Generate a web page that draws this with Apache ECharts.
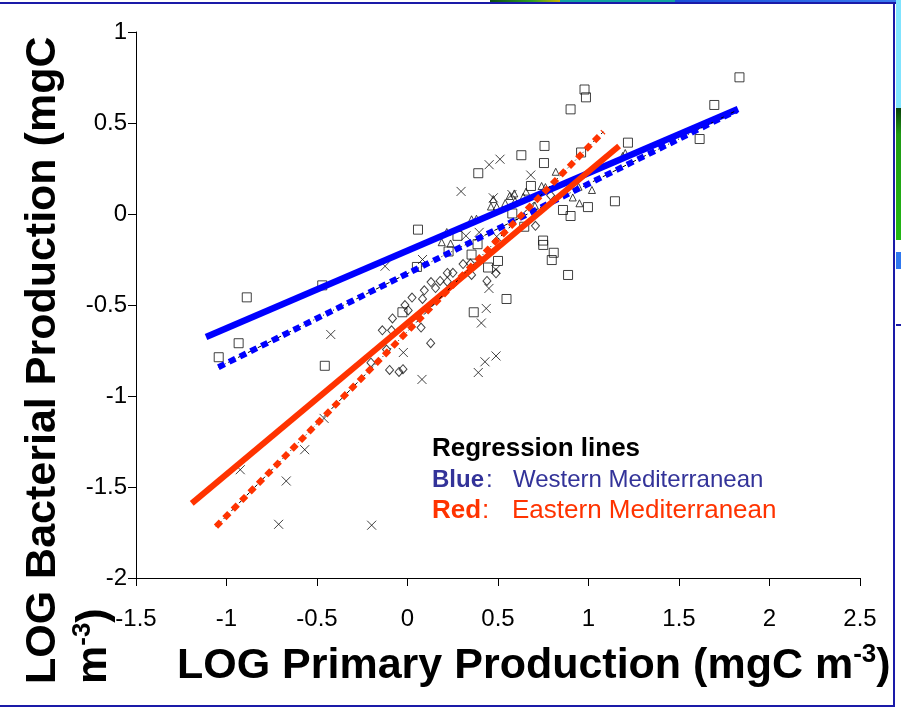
<!DOCTYPE html>
<html>
<head>
<meta charset="utf-8">
<script src="https://cdn.jsdelivr.net/npm/echarts@6/dist/echarts.min.js"></script>
<style>
  html, body { margin: 0; padding: 0; background: #ffffff; }
  #chart { width: 901px; height: 711px; }
</style>
</head>
<body>
<div id="chart"></div>
<script>
// Axis ticks (log10 units)
const xTicks = [-1.5, -1, -0.5, 0, 0.5, 1, 1.5, 2, 2.5];
const yTicks = [-2, -1.5, -1, -0.5, 0, 0.5, 1];

// Observations: [LOG PP, LOG BP], one array per cruise symbol
const squarePts = [
  [-0.888, -0.458], [-0.471, -0.392], [-0.933, -0.710], [-1.043, -0.787], [-0.457, -0.834],
  [-0.028, -0.540], [0.366, -0.540], [0.391, 0.224], [0.058, -0.086], [0.276, -0.120],
  [0.227, -0.206], [0.354, -0.223], [0.052, -0.291], [0.387, -0.166], [0.978, 0.684],
  [0.986, 0.641], [0.901, 0.575], [1.695, 0.599], [1.218, 0.392], [1.614, 0.412],
  [0.757, 0.374], [0.629, 0.323], [0.754, 0.280], [0.959, 0.338], [0.682, 0.154],
  [1.146, 0.070], [0.997, 0.038], [0.859, 0.022], [0.901, -0.011], [0.579, 0.003],
  [0.645, -0.070], [0.749, -0.146], [0.750, -0.170], [0.808, -0.213], [0.797, -0.253],
  [0.887, -0.335], [0.500, -0.258], [0.445, -0.294], [0.547, -0.467], [1.834, 0.751]
];
const crossPts = [
  [0.296, 0.124], [0.083, -0.250], [-0.124, -0.287], [-0.424, -0.662], [0.323, -0.120],
  [0.396, -0.101], [0.451, 0.271], [0.511, 0.301], [0.681, 0.214], [0.474, 0.089],
  [0.577, 0.107], [0.493, -0.124], [0.488, -0.305], [0.450, -0.409], [0.435, -0.519],
  [0.408, -0.599], [-0.023, -0.761], [0.489, -0.780], [0.428, -0.812], [0.391, -0.871],
  [0.080, -0.909], [-0.461, -1.123], [-0.568, -1.295], [-0.924, -1.405], [-0.670, -1.467],
  [-0.712, -1.705], [-0.198, -1.710]
];
const trianglePts = [
  [0.819, 0.232], [0.741, 0.154], [0.762, 0.148], [0.655, 0.123], [0.590, 0.113],
  [0.564, 0.099], [0.540, 0.060], [0.474, 0.082], [0.461, 0.041], [0.493, 0.041],
  [0.594, 0.071], [0.640, 0.095], [0.354, -0.029], [0.381, -0.026], [0.217, -0.099],
  [0.189, -0.155], [0.238, -0.162], [0.945, 0.150], [1.019, 0.132], [0.913, 0.091],
  [0.950, 0.059], [1.203, 0.335], [1.189, 0.319], [0.704, 0.046]
];
const diamondPts = [
  [0.307, -0.275], [0.348, -0.272], [0.354, -0.335], [0.220, -0.324], [0.251, -0.323],
  [0.180, -0.368], [0.130, -0.374], [0.155, -0.407], [0.093, -0.419], [0.025, -0.459],
  [0.083, -0.467], [-0.014, -0.500], [0.004, -0.530], [-0.083, -0.574], [-0.088, -0.639],
  [-0.139, -0.639], [0.075, -0.624], [0.128, -0.710], [-0.116, -0.745], [-0.202, -0.817],
  [-0.099, -0.857], [-0.047, -0.868], [-0.025, -0.853], [0.439, -0.368], [0.489, -0.326],
  [0.707, -0.065], [0.791, 0.102], [0.220, -0.372]
];

// Regression line end points
const westSolid  = [[-1.113, -0.676], [1.826, 0.577]];
const westDotted = [[-1.045, -0.842], [1.820, 0.570]];
const eastSolid  = [[-1.192, -1.590], [1.169, 0.374]];
const eastDotted = [[-1.058, -1.718], [1.082, 0.452]];

const FONT = '"Liberation Sans", Arial, sans-serif';
const BLUE = '#0000ff';
const RED = '#ff3300';
const FRAME = '#1a1aa8';

const chart = echarts.init(document.getElementById('chart'), null, { renderer: 'canvas' });

function markers(name, data, symbol, size) {
  return {
    name, type: 'scatter', data, symbol, symbolSize: size, z: 2,
    itemStyle: { color: 'rgba(255,255,255,0)', borderColor: '#111', borderWidth: 1 },
    emphasis: { disabled: true }, silent: true
  };
}
function regLine(name, data, color, width, type, z) {
  return {
    name, type: 'line', data, symbol: 'none', z, silent: true,
    lineStyle: { color, width, type, cap: 'butt' }
  };
}

const titleRich = {
  a: { fontFamily: FONT, fontSize: 43, fontWeight: 'bold', fill: '#000', color: '#000', lineHeight: 49 },
  s: { fontFamily: FONT, fontSize: 26, fontWeight: 'bold', fill: '#000', color: '#000', verticalAlign: 'top', lineHeight: 32 }
};

const option = {
  animation: false,
  backgroundColor: '#ffffff',
  grid: { left: 136, top: 32, width: 724, height: 546, containLabel: false },
  xAxis: {
    type: 'value', min: xTicks[0], max: xTicks[xTicks.length - 1], interval: 0.5,
    splitLine: { show: false },
    axisLine: { onZero: false, lineStyle: { color: '#000', width: 1 } },
    axisTick: { show: true, inside: false, length: 8, lineStyle: { color: '#000' } },
    axisLabel: { color: '#000', fontFamily: FONT, fontSize: 24, margin: 29 }
  },
  yAxis: {
    type: 'value', min: yTicks[0], max: yTicks[yTicks.length - 1], interval: 0.5,
    splitLine: { show: false },
    axisLine: { onZero: false, lineStyle: { color: '#000', width: 1 } },
    axisTick: { show: true, inside: false, length: 8, lineStyle: { color: '#000' } },
    axisLabel: { color: '#000', fontFamily: FONT, fontSize: 24, margin: 9 }
  },
  series: [
    markers('squares', squarePts, 'rect', 9),
    markers('crosses', crossPts, 'path://M0,0L10,10M10,0L0,10', 9),
    markers('triangles', trianglePts, 'triangle', 7),
    markers('diamonds', diamondPts, 'diamond', [8, 9]),
    regLine('west solid', westSolid, BLUE, 6.5, 'solid', 5),
    regLine('west dotted guide', westDotted, '#000', 1, [4, 3, 1, 3], 5),
    regLine('west dotted', westDotted, BLUE, 6, [7, 5], 6),
    regLine('east solid', eastSolid, RED, 6, 'solid', 7),
    regLine('east dotted guide', eastDotted, '#000', 1, [4, 3, 1, 3], 7),
    regLine('east dotted', eastDotted, RED, 6, [7, 5], 8)
  ],
  graphic: [
    // slide frame and neighbouring picture edges
    { type: 'rect', shape: { x: 490, y: 0, width: 70, height: 3 }, style: { fill: new echarts.graphic.LinearGradient(0, 0, 1, 0, [{ offset: 0, color: '#0b4d12' }, { offset: 0.6, color: '#2e9e22' }, { offset: 1, color: '#c9b600' }]) }, silent: true, z: 10 },
    { type: 'rect', shape: { x: 560, y: 0, width: 115, height: 3 }, style: { fill: '#11a3a0' }, silent: true, z: 10 },
    { type: 'rect', shape: { x: 675, y: 0, width: 226, height: 3 }, style: { fill: new echarts.graphic.LinearGradient(0, 0, 1, 0, [{ offset: 0, color: '#1a4fd8' }, { offset: 1, color: '#3b7cf0' }]) }, silent: true, z: 10 },
    { type: 'rect', shape: { x: 896, y: 0, width: 5, height: 108 }, style: { fill: '#80e4ff' }, silent: true, z: 10 },
    { type: 'rect', shape: { x: 896, y: 108, width: 5, height: 132 }, style: { fill: new echarts.graphic.LinearGradient(0, 0, 0, 1, [{ offset: 0, color: '#0a3f0a' }, { offset: 0.2, color: '#1f9a14' }, { offset: 1, color: '#22b814' }]) }, silent: true, z: 10 },
    { type: 'rect', shape: { x: 896, y: 252, width: 5, height: 17 }, style: { fill: '#2f78f0' }, silent: true, z: 10 },
    { type: 'rect', shape: { x: 896, y: 324, width: 5, height: 2 }, style: { fill: FRAME }, silent: true, z: 10 },
    { type: 'rect', shape: { x: 0, y: 2, width: 896, height: 2 }, style: { fill: FRAME }, silent: true, z: 11 },
    { type: 'rect', shape: { x: 893, y: 2, width: 2, height: 705 }, style: { fill: FRAME }, silent: true, z: 11 },
    { type: 'rect', shape: { x: 0, y: 705, width: 895, height: 2 }, style: { fill: FRAME }, silent: true, z: 11 },

    // axis titles
    {
      type: 'text', x: 177, y: 642, silent: true, z: 12,
      style: {
        text: '{a|LOG Primary Production (mgC m}{s|-3}{a|)}',
        x: 0, y: 0, textAlign: 'left', textVerticalAlign: 'top', verticalAlign: 'top',
        rich: titleRich
      }
    },
    {
      type: 'text', x: 22, y: 684, rotation: Math.PI / 2, silent: true, z: 12,
      style: {
        text: 'LOG Bacterial Production (mgC',
        x: 0, y: 0, textAlign: 'left', textVerticalAlign: 'top', verticalAlign: 'top',
        font: 'bold 43px ' + FONT, fill: '#000'
      }
    },
    {
      type: 'text', x: 70, y: 684, rotation: Math.PI / 2, silent: true, z: 12,
      style: {
        text: '{a|m}{s|-3}{a|)}',
        x: 0, y: 0, textAlign: 'left', textVerticalAlign: 'top', verticalAlign: 'top',
        rich: titleRich
      }
    },

    // regression line key
    { type: 'text', x: 432, y: 449, silent: true, z: 12, style: { text: 'Regression lines', font: 'bold 26px ' + FONT, fill: '#000', textVerticalAlign: 'middle', verticalAlign: 'middle' } },
    { type: 'text', x: 432, y: 480, silent: true, z: 12, style: { text: 'Blue', font: 'bold 24px ' + FONT, fill: '#333399', textVerticalAlign: 'middle', verticalAlign: 'middle' } },
    { type: 'text', x: 486, y: 480, silent: true, z: 12, style: { text: ':', font: '24px ' + FONT, fill: '#333399', textVerticalAlign: 'middle', verticalAlign: 'middle' } },
    { type: 'text', x: 513, y: 480, silent: true, z: 12, style: { text: 'Western Mediterranean', font: '24px ' + FONT, fill: '#333399', textVerticalAlign: 'middle', verticalAlign: 'middle' } },
    { type: 'text', x: 432, y: 511, silent: true, z: 12, style: { text: 'Red', font: 'bold 26px ' + FONT, fill: RED, textVerticalAlign: 'middle', verticalAlign: 'middle' } },
    { type: 'text', x: 482, y: 511, silent: true, z: 12, style: { text: ':', font: '26px ' + FONT, fill: RED, textVerticalAlign: 'middle', verticalAlign: 'middle' } },
    { type: 'text', x: 512, y: 511, silent: true, z: 12, style: { text: 'Eastern Mediterranean', font: '26px ' + FONT, fill: RED, textVerticalAlign: 'middle', verticalAlign: 'middle' } }
  ]
};

chart.setOption(option);
</script>
</body>
</html>
